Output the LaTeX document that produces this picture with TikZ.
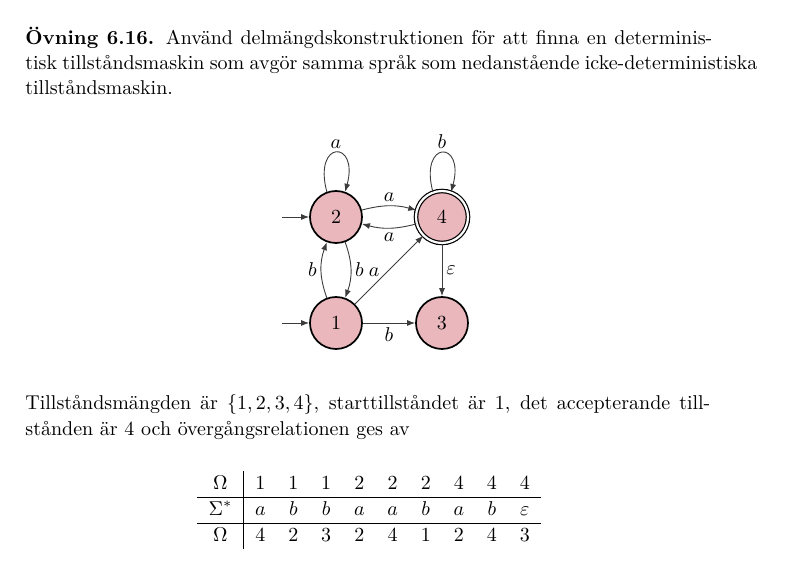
\documentclass[tikz,border=0pt]{standalone}
\usepackage{fontspec}
\usetikzlibrary{arrows.meta}
\definecolor{statefill}{RGB}{233,183,188}
\definecolor{edgegray}{RGB}{60,60,60}
\tikzset{
  statenode/.style={circle, draw=black, line width=0.85pt, fill=statefill, minimum size=26pt, inner sep=0pt, font=\normalsize},
  acceptnode/.style={statenode, line width=0.6pt, double=white, double distance=1.1pt},
  edgeline/.style={draw=edgegray, line width=0.45pt, -{Latex[length=4pt,width=3pt]}},
  lbl/.style={font=\normalsize, inner sep=2pt},
  textline/.style={anchor=base west, inner sep=0pt, font=\normalsize}
}
\begin{document}
\begin{tikzpicture}[x=0.5pt,y=0.5pt]
\useasboundingbox (0,0) rectangle (800,574);
% text
\node[textline] (t1) at (25,529) {\makebox[343.5pt][s]{\textbf{Övning 6.16.} Använd delmängdskonstruktionen för att finna en determinis-}};
\node[textline] (t2) at (25,504) {\makebox[366pt][s]{tisk tillståndsmaskin som avgör samma språk som nedanstående icke-deterministiska}};
\node[textline] (t3) at (25,479) {tillståndsmaskin.};
\node[textline] (t4) at (25,164) {\makebox[342.5pt][s]{Tillståndsmängden är $\{1,2,3,4\}$, starttillståndet är 1, det accepterande till-}};
\node[textline] (t5) at (25,138) {stånden är 4 och övergångsrelationen ges av};
% automaton
\node[statenode] (n2) at (336,357) {$2$};
\node[acceptnode] (n4) at (442,357) {$4$};
\node[statenode] (n1) at (336,251) {$1$};
\node[statenode] (n3) at (442,251) {$3$};
\coordinate (i2) at (282,357);
\coordinate (i1) at (282,251);
\draw[edgeline] (i2) -- (n2);
\draw[edgeline] (i1) -- (n1);
\draw[edgeline] (n2.110) .. controls +(105:27pt) and +(75:27pt) .. node[lbl, above] {$a$} (n2.70);
\draw[edgeline] (n4.110) .. controls +(105:27pt) and +(75:27pt) .. node[lbl, above] {$b$} (n4.70);
\draw[edgeline] (n2) to[bend left=15] node[lbl, above] {$a$} (n4);
\draw[edgeline] (n4) to[bend left=15] node[lbl, below] {$a$} (n2);
\draw[edgeline] (n1) to[bend left=20] node[lbl, left] {$b$} (n2);
\draw[edgeline] (n2) to[bend left=20] node[lbl, right] {$b$} (n1);
\draw[edgeline] (n1) -- node[lbl, pos=0.28, above, yshift=2pt] {$a$} (n4);
\draw[edgeline] (n4) -- node[lbl, right] {$\varepsilon$} (n3);
\draw[edgeline] (n1) -- node[lbl, below] {$b$} (n3);
% table
\node[inner sep=0pt] (tab) at (369.2,64) {\renewcommand{\arraystretch}{1.05}\setlength{\tabcolsep}{5.7pt}%
\begin{tabular}{c|ccccccccc}
$\Omega$ & 1 & 1 & 1 & 2 & 2 & 2 & 4 & 4 & 4\\ \hline
$\Sigma^*$ & $a$ & $b$ & $b$ & $a$ & $a$ & $b$ & $a$ & $b$ & $\varepsilon$\\ \hline
$\Omega$ & 4 & 2 & 3 & 2 & 4 & 1 & 2 & 4 & 3
\end{tabular}};
\end{tikzpicture}
\end{document}
